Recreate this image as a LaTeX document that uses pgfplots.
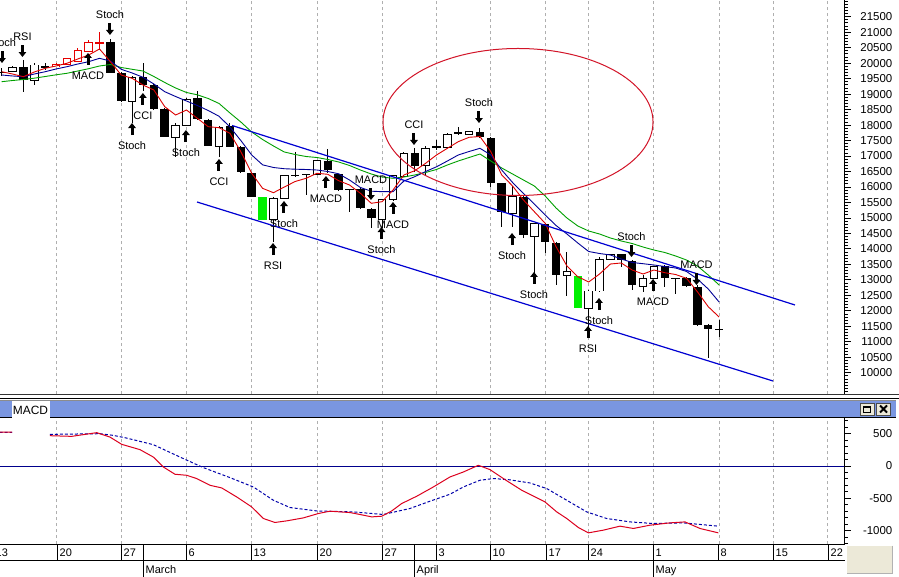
\documentclass[border=0pt]{standalone}
\usepackage{fontspec}
\setmainfont{Liberation Sans}
\usepackage{pgfplots}
\pgfplotsset{compat=1.18}
\usepackage{pgfplotstable}
\usetikzlibrary{calc,arrows.meta}

\definecolor{mared}{RGB}{220,0,0}
\definecolor{mablue}{RGB}{0,0,150}
\definecolor{magreen}{RGB}{0,160,0}
\definecolor{trendblue}{RGB}{0,0,210}
\definecolor{ellred}{RGB}{210,20,40}
\definecolor{gridgray}{RGB}{175,175,175}
\definecolor{candlegreen}{RGB}{0,240,0}
\definecolor{candlered}{RGB}{230,0,0}
\definecolor{barblue}{RGB}{122,150,224}
\definecolor{btngray}{RGB}{236,233,216}
\definecolor{zeronavy}{RGB}{0,0,140}
\definecolor{sigblue}{RGB}{0,0,170}
\definecolor{macdred}{RGB}{220,0,30}

% candles: i open high low close kind (0 white,1 black,2 black cross,3 red white,4 red cross,5 green)
\pgfplotstableread{
i o h l c k
0 19710 19840 19580 19710 2
1 19720 19910 19710 19850 0
2 19885 20100 19080 19455 1
3 19455 19995 19290 19940 0
4 19885 20005 19780 19885 2
5 19885 19990 19875 19960 3
6 19960 20165 19940 20135 3
7 20045 20490 20035 20400 3
8 20370 20750 20360 20660 3
9 20660 21005 20425 20660 4
10 20690 20780 19680 19690 1
11 19690 19715 18745 18775 1
12 18775 19585 18065 19545 0
13 19545 20015 19110 19295 1
14 19295 19325 18485 18510 1
15 18510 18550 17615 17625 1
16 17605 18065 16980 18000 0
17 17980 18875 17970 18830 0
18 18865 19110 18165 18185 1
19 18165 18195 17310 17325 1
20 17300 17970 16980 17930 0
21 17970 18075 17290 17300 1
22 17280 17325 16450 16475 1
23 16440 16485 15675 15685 1
24 15665 15665 14935 14935 5
25 14935 15675 14220 15635 0
26 15635 16385 15610 16365 0
27 16385 17140 16320 16385 2
28 16410 16435 15740 16410 2
29 16410 16870 16385 16850 0
30 16850 17215 16440 16550 1
31 16410 16435 15870 15900 1
32 15925 15935 15200 15925 2
33 15925 16010 15290 15310 1
34 15280 15305 14665 14990 1
35 14955 15610 14665 15580 0
36 15580 16385 15545 16355 0
37 16330 17115 16320 17090 0
38 17105 17250 16495 16680 1
39 16680 17325 16385 17250 0
40 17300 17515 17195 17300 2
41 17290 17745 17280 17710 0
42 17745 17930 17680 17745 2
43 17695 17810 17690 17785 0
44 17785 17895 17580 17605 1
45 17570 17600 15990 16140 1
46 16120 16130 14715 15200 1
47 15150 16030 14715 15685 0
48 15685 15710 14340 14450 1
49 14415 14835 13155 14805 0
50 14805 14835 13855 14230 1
51 14200 14225 12835 13155 1
52 13155 13900 12480 13265 0
53 13125 13125 12100 12100 5
54 12080 12670 11410 12640 0
55 12640 13750 12610 13665 0
56 13665 13835 13640 13820 0
57 13825 13850 13415 13640 1
58 13610 13640 12670 12820 1
59 12780 13155 12620 13050 0
60 13050 13450 13030 13425 0
61 13440 13465 12780 13050 1
62 13050 13060 12545 13050 2
63 13050 13090 12770 12800 1
64 12780 12835 11510 11540 1
65 11540 11560 10465 11405 1
66 11405 11705 11165 11405 2
}\candles

% moving averages: i red blue green
\pgfplotstableread{
i r b g
0 19723 19617 19401
1 19649 19585 19439
2 19562 19562 19472
3 19714 19649 19514
4 19833 19723 19568
5 19908 19811 19623
6 19995 19885 19672
7 20134 19972 19746
8 20263 20047 19820
9 20457 20156 19908
10 20047 20069 19956
11 19617 19801 19859
12 19510 19682 19801
13 19294 19543 19746
14 19132 19326 19568
15 18593 19078 19375
16 18325 18922 19197
17 18486 18777 19052
18 18218 18632 18977
19 17947 18470 18858
20 17915 18283 18696
21 17734 17937 18390
22 17140 17501 18099
23 16442 17033 17776
24 15957 16716 17534
25 15815 16629 17324
26 15999 16590 17130
27 16177 16574 17049
28 16280 16565 16984
29 16442 16548 16952
30 16410 16500 16888
31 16203 16426 16807
32 16064 16225 16694
33 15796 15983 16548
34 15473 15864 16419
35 15525 15848 16322
36 15902 15848 16280
37 16387 16193 16322
38 16526 16332 16387
39 16765 16500 16468
40 17033 16652 16565
41 17249 16839 16710
42 17463 17033 16839
43 17605 17146 16952
44 17630 17249 17065
45 17140 17033 16839
46 16387 16548 16613
47 16032 16145 16419
48 15579 15789 16225
49 15202 15450 16032
50 14827 15095 15709
51 14071 14756 15321
52 13448 14481 14998
53 13102 14191 14740
54 12931 13916 14578
55 13189 13851 14481
56 13512 13803 14352
57 13545 13674 14255
58 13318 13561 14174
59 13189 13522 14061
60 13318 13480 13964
61 13231 13431 13884
62 13173 13383 13771
63 13050 13270 13641
64 12618 13028 13448
65 12133 12705 13157
66 11800 12285 12834
}\mas

\pgfplotstableread{
i v
-0.2 526
0.95 526
2.5 nan
4.44 470
6.44 460
8.74 517
9.96 449
11.04 336
12.72 254
13.95 139
14.87 -15
15.94 -128
17.02 -144
17.94 -195
19.16 -299
20.24 -340
21.62 -480
23.0 -635
24.07 -814
25.14 -876
26.22 -851
27.75 -805
29.13 -737
30.2 -701
32.04 -722
32.96 -752
34.04 -789
34.96 -779
35.88 -697
36.8 -582
38.18 -469
39.71 -325
41.24 -170
42.47 -93
43.85 11
44.92 -56
46.3 -211
47.84 -376
49.98 -557
51.06 -712
51.98 -814
53.05 -954
53.97 -1037
55.35 -995
56.88 -933
58.11 -969
59.64 -918
61.48 -882
62.86 -867
64.24 -969
65.93 -1037
}\macd

\pgfplotstableread{
i v
-0.2 520
0.95 520
2.5 nan
4.44 491
9.04 501
10.27 475
11.5 433
13.95 331
16.4 139
18.55 -25
21.0 -180
23.15 -325
24.99 -531
26.52 -644
28.98 -697
32.35 -712
35.1 -752
37.56 -659
39.4 -546
41.24 -438
42.47 -325
44.0 -221
45.23 -195
46.6 -211
48.6 -263
50.14 -350
51.98 -531
53.82 -712
55.65 -814
57.8 -867
59.94 -892
62.7 -882
65.93 -933
}\signal

\pgfplotsset{
  panel/.style={
    scale only axis, width=844bp,
    xmin=-0.156, xmax=77.49,
    axis x line*=bottom, axis y line*=right, separate axis lines,
    x axis line style={draw=none},
    y axis line style={draw=black, line width=1bp, -},
    xtick={5,11,17,23,29,35,40,45,50,54,60,66,71,76},
    xticklabels={},
    xtick style={draw=none},
    xmajorgrids=true, ymajorgrids=false,
    major grid style={gridgray, line width=0.8bp, dash pattern=on 3bp off 3bp},
    ytick pos=right, yticklabel pos=right,
    tick align=outside,
    major tick length=6.5bp, minor tick length=3.5bp,
    ytick style={black, line width=0.8bp},
    scaled y ticks=false, scaled x ticks=false,
    yticklabel style={font=\fontsize{11.5}{13}\selectfont, anchor=east, inner sep=0pt, xshift=42bp},
  },
  wick/.style={draw=none, mark=none, forget plot,
    error bars/y dir=both, error bars/y explicit, error bars/error mark=none,
    error bars/error bar style={draw=#1, line width=1bp, solid}},
  body/.style 2 args={draw=none, mark=none, forget plot,
    error bars/y dir=both, error bars/y explicit, error bars/error mark=none,
    error bars/error bar style={draw=#1, line width=#2, solid}},
}
\tikzset{
  annarrow/.style={black, line width=3bp, -{Triangle[width=7.5bp,length=5bp]}},
  annlabel/.style={inner sep=0pt, font=\fontsize{11}{13}\selectfont, black},
}
\newcommand\DN[3]{%
  \coordinate (tip) at (axis cs:#1,#2);
  \draw[annarrow] ([yshift=12bp]tip) -- (tip);
  \node[annlabel] at ([yshift=20.5bp]tip) {#3};}
\newcommand\UP[3]{%
  \coordinate (tip) at (axis cs:#1,#2);
  \draw[annarrow] ([yshift=-12bp]tip) -- (tip);
  \node[annlabel] at ([yshift=-22.5bp]tip) {#3};}

\begin{document}
\begin{tikzpicture}
\useasboundingbox (0,0) rectangle (899bp,-577bp);
\fill[white] (0,0) rectangle (899bp,-577bp);
\clip (0,0) rectangle (899bp,-577bp);

% ---------------- price panel ----------------
\begin{axis}[panel,
  at={(0bp,0bp)}, anchor=north west, height=394bp,
  ymin=9313, ymax=22039.4,
  ytick={10000,10500,11000,11500,12000,12500,13000,13500,14000,14500,15000,15500,16000,16500,17000,17500,18000,18500,19000,19500,20000,20500,21000,21500},
  yticklabels={10000,10500,11000,11500,12000,12500,13000,13500,14000,14500,15000,15500,16000,16500,17000,17500,18000,18500,19000,19500,20000,20500,21000,21500},
  minor ytick={9400,9500,9600,9700,9800,9900,10000,10100,10200,10300,10400,10500,10600,10700,10800,10900,11000,11100,11200,11300,11400,11500,11600,11700,11800,11900,12000,12100,12200,12300,12400,12500,12600,12700,12800,12900,13000,13100,13200,13300,13400,13500,13600,13700,13800,13900,14000,14100,14200,14300,14400,14500,14600,14700,14800,14900,15000,15100,15200,15300,15400,15500,15600,15700,15800,15900,16000,16100,16200,16300,16400,16500,16600,16700,16800,16900,17000,17100,17200,17300,17400,17500,17600,17700,17800,17900,18000,18100,18200,18300,18400,18500,18600,18700,18800,18900,19000,19100,19200,19300,19400,19500,19600,19700,19800,19900,20000,20100,20200,20300,20400,20500,20600,20700,20800,20900,21000,21100,21200,21300,21400,21500,21600,21700,21800,21900,22000},
]
% wicks
\addplot[wick=black, restrict expr to domain={\thisrow{k}}{0:2}]
  table[x=i, y expr={(\thisrow{h}+\thisrow{l})/2}, y error expr={(\thisrow{h}-\thisrow{l})/2}] {\candles};
\addplot[wick=candlered, restrict expr to domain={\thisrow{k}}{3:4}]
  table[x=i, y expr={(\thisrow{h}+\thisrow{l})/2}, y error expr={(\thisrow{h}-\thisrow{l})/2}] {\candles};
% black bodies and crosses
\addplot[body={black}{8.5bp}, restrict expr to domain={\thisrow{k}}{1:2}]
  table[x=i, y expr={(\thisrow{o}+\thisrow{c})/2}, y error expr={max(abs(\thisrow{o}-\thisrow{c})/2,16)}] {\candles};
% white bodies
\addplot[body={black}{8.5bp}, restrict expr to domain={\thisrow{k}}{0:0}]
  table[x=i, y expr={(\thisrow{o}+\thisrow{c})/2}, y error expr={abs(\thisrow{o}-\thisrow{c})/2+16}] {\candles};
\addplot[body={white}{6.5bp}, restrict expr to domain={\thisrow{k}}{0:0}]
  table[x=i, y expr={(\thisrow{o}+\thisrow{c})/2}, y error expr={max(abs(\thisrow{o}-\thisrow{c})/2-16,0)}] {\candles};
% red bodies
\addplot[body={candlered}{8.5bp}, restrict expr to domain={\thisrow{k}}{3:3}]
  table[x=i, y expr={(\thisrow{o}+\thisrow{c})/2}, y error expr={abs(\thisrow{o}-\thisrow{c})/2+16}] {\candles};
\addplot[body={white}{6.5bp}, restrict expr to domain={\thisrow{k}}{3:3}]
  table[x=i, y expr={(\thisrow{o}+\thisrow{c})/2}, y error expr={max(abs(\thisrow{o}-\thisrow{c})/2-16,0)}] {\candles};
\addplot[body={candlered}{8.5bp}, restrict expr to domain={\thisrow{k}}{4:4}]
  table[x=i, y expr={(\thisrow{o}+\thisrow{c})/2}, y error expr={max(abs(\thisrow{o}-\thisrow{c})/2,16)}] {\candles};
% green signal bars
\addplot[body={candlegreen}{8.5bp}, restrict expr to domain={\thisrow{k}}{5:5}]
  table[x=i, y expr={(\thisrow{o}+\thisrow{c})/2}, y error expr={abs(\thisrow{o}-\thisrow{c})/2}] {\candles};

% moving averages
\addplot[magreen, line width=0.9bp, mark=none] table[x=i, y=g] {\mas};
\addplot[mablue, line width=0.9bp, mark=none] table[x=i, y=b] {\mas};
\addplot[mared, line width=0.9bp, mark=none] table[x=i, y=r] {\mas};

% trend channel
\addplot[trendblue, line width=1.2bp, mark=none] coordinates {(21.19,17986) (72.98,12188)};
\addplot[trendblue, line width=1.2bp, mark=none] coordinates {(17.97,15515) (70.96,9733)};

% ellipse
\draw[ellred, line width=1bp] (axis cs:47.5,18099) ellipse [x radius=135bp, y radius=73.5bp];

% signal annotations
\DN{0.028}{20004}{Stoch}
\DN{1.91}{20198}{RSI}
\DN{9.96}{20909}{Stoch}
\DN{33.97}{15579}{MACD}
\DN{37.93}{17356}{CCI}
\DN{43.91}{18066}{Stoch}
\DN{57.94}{13738}{Stoch}
\DN{63.92}{12834}{MACD}
\UP{7.94}{20328}{MACD}
\UP{12.99}{19036}{CCI}
\UP{11.99}{18066}{Stoch}
\UP{16.95}{17840}{Stoch}
\UP{19.99}{16904}{CCI}
\UP{24.96}{14190}{RSI}
\UP{25.97}{15547}{Stoch}
\UP{29.83}{16355}{MACD}
\UP{34.94}{14707}{Stoch}
\UP{36.0}{15515}{MACD}
\UP{46.95}{14513}{Stoch}
\UP{48.97}{13254}{Stoch}
\UP{54.95}{12414}{Stoch}
\UP{53.94}{11510}{RSI}
\UP{59.92}{13028}{MACD}
\end{axis}

% ---------------- MACD panel ----------------
\begin{axis}[panel,
  at={(0bp,-418bp)}, anchor=north west, height=126bp,
  ymin=-1209.9, ymax=744.5,
  ytick={-1000,-500,0,500},
  yticklabels={-1000,-500,0,500},
  minor ytick={-1200,-1100,-1000,-900,-800,-700,-600,-500,-400,-300,-200,-100,0,100,200,300,400,500,600,700},
  unbounded coords=jump,
]
\addplot[zeronavy, line width=1bp, mark=none] coordinates {(-1,0) (78,0)};
\addplot[sigblue, line width=1bp, mark=none, dash pattern=on 3bp off 2bp] table[x=i, y=v] {\signal};
\addplot[macdred, line width=1bp, mark=none] table[x=i, y=v] {\macd};
\end{axis}

% ---------------- window furniture and date scale ----------------
\begin{scope}[x=1bp,y=-1bp]
\draw[black!80, line width=1.3bp] (0,394.7) -- (899,394.7);
\draw[black, line width=1bp] (0,398) -- (899,398);
\fill[barblue] (0,401) rectangle (896,417);
\draw[black!45, line width=0.8bp] (0,400.8) -- (896,400.8);
\draw[black, line width=1bp] (0,417.5) -- (896,417.5);
\fill[white] (11.7,401) rectangle (50,420);
\node[anchor=base west, inner sep=0pt, font=\fontsize{12}{14}\selectfont] at (12.7,414.5) {MACD};
% buttons
\fill[btngray] (860,403) rectangle (874,415);
\draw[black!70, line width=0.8bp] (860,403) rectangle (874,415);
\draw[black, line width=1bp] (863.5,406.5) rectangle (870.5,412.8);
\draw[black, line width=2bp] (863.5,407) -- (870.5,407);
\fill[btngray] (876.5,403) rectangle (890.5,415);
\draw[black!70, line width=0.8bp] (876.5,403) rectangle (890.5,415);
\draw[black, line width=1.8bp] (880,405.5) -- (887,412.5) (880,412.5) -- (887,405.5);
% date row
\draw[black, line width=1bp] (0,544.3) -- (845,544.3);
\draw[black, line width=1bp] (0,560) -- (845,560);
\foreach \x/\d in {-7/13,57/20,121/27,186/6,251/13,317/20,382/27,436/3,490/10,546/17,588/24,653/1,718/8,773/15,828/22}{
  \draw[black, line width=1bp] (\x,544.3) -- (\x,560);
  \node[anchor=base west, inner sep=0pt, font=\fontsize{11}{13}\selectfont] at (\x+2.5,556.5) {\d};
}
\foreach \x/\m in {143/March,414/April,653/May}{
  \draw[black, line width=1bp] (\x,544.3) -- (\x,577);
  \node[anchor=base west, inner sep=0pt, font=\fontsize{11}{13}\selectfont] at (\x+2.5,573) {\m};
}
\fill[btngray] (846,545) rectangle (893,574);
\draw[white, line width=1bp] (846.5,574) -- (846.5,545.5) -- (893,545.5);
\draw[black!30, line width=1bp] (892.5,545.5) -- (892.5,573.5) -- (846.5,573.5);
\end{scope}
\end{tikzpicture}
\end{document}
